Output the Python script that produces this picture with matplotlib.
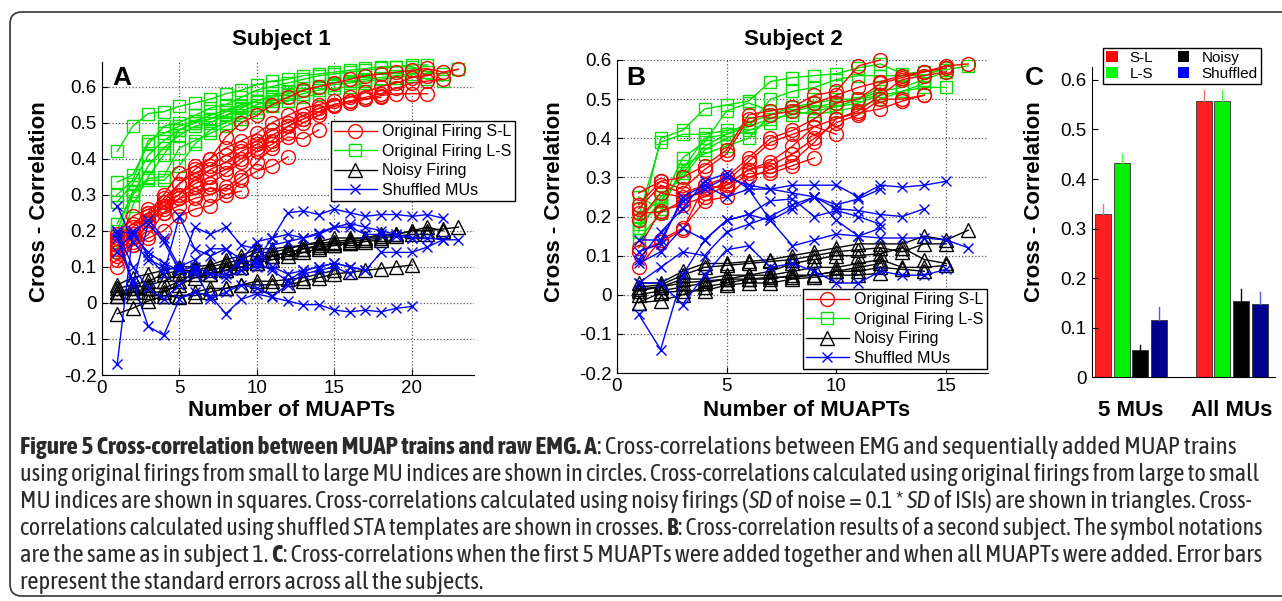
import numpy as np
import matplotlib
matplotlib.use('Agg')
import matplotlib.pyplot as plt
from matplotlib.patches import Patch, FancyBboxPatch
from matplotlib import font_manager

plt.rcParams['font.family'] = ['Liberation Sans', 'DejaVu Sans']

# ---- Subject 1 (panel A) : one list per curve, x = 1..len ----
a_sl = [
    [0.19, 0.24, 0.26, 0.28, 0.33, 0.37, 0.40, 0.46, 0.50, 0.52, 0.55, 0.57, 0.59, 0.60, 0.61, 0.62, 0.63, 0.635, 0.64, 0.645, 0.65, 0.64, 0.648],
    [0.18, 0.22, 0.25, 0.30, 0.36, 0.38, 0.40, 0.43, 0.45, 0.47, 0.50, 0.52, 0.54, 0.55, 0.56, 0.57, 0.585, 0.60, 0.61, 0.625, 0.63],
    [0.16, 0.21, 0.24, 0.29, 0.33, 0.36, 0.38, 0.41, 0.43, 0.45, 0.48, 0.50, 0.52, 0.54, 0.55, 0.56, 0.57, 0.58, 0.595, 0.61, 0.615, 0.62],
    [0.15, 0.19, 0.23, 0.28, 0.30, 0.34, 0.37, 0.39, 0.42, 0.44, 0.465, 0.49, 0.51, 0.53, 0.545, 0.555, 0.565, 0.575, 0.58, 0.58, 0.58],
    [0.13, 0.17, 0.22, 0.27, 0.30, 0.33, 0.35, 0.37, 0.40, 0.43, 0.45, 0.49, 0.51, 0.53, 0.55, 0.56, 0.565, 0.57],
    [0.14, 0.18, 0.25, 0.26, 0.29, 0.32, 0.33, 0.36, 0.39, 0.42, 0.44, 0.47, 0.50, 0.52, 0.55],
    [0.12, 0.16, 0.19, 0.25, 0.29, 0.30, 0.32, 0.31, 0.34, 0.365, 0.38, 0.405],
    [0.10, 0.16, 0.18, 0.20, 0.24, 0.26, 0.27, 0.30, 0.31],
    [0.17, 0.20, 0.23, 0.25, 0.27, 0.29, 0.30, 0.32, 0.35, 0.39, 0.43, 0.46, 0.455, 0.48],
]
a_ls = [
    [0.42, 0.49, 0.525, 0.53, 0.545, 0.555, 0.565, 0.58, 0.59, 0.605, 0.615, 0.62, 0.63, 0.635, 0.64, 0.645, 0.65, 0.655, 0.655, 0.66, 0.66],
    [0.335, 0.355, 0.44, 0.49, 0.50, 0.52, 0.54, 0.55, 0.57, 0.59, 0.60, 0.61, 0.62, 0.63, 0.635, 0.64, 0.645, 0.65, 0.655, 0.655, 0.64, 0.635, 0.648],
    [0.30, 0.34, 0.45, 0.47, 0.49, 0.505, 0.52, 0.535, 0.55, 0.56, 0.575, 0.585, 0.59, 0.60, 0.61, 0.615, 0.62, 0.625, 0.63, 0.635, 0.62, 0.615],
    [0.28, 0.33, 0.41, 0.45, 0.48, 0.50, 0.51, 0.53, 0.545, 0.56, 0.57, 0.58, 0.59, 0.60, 0.605, 0.61, 0.615, 0.62, 0.625, 0.63],
    [0.22, 0.30, 0.38, 0.43, 0.465, 0.49, 0.50, 0.52, 0.53, 0.55, 0.56, 0.57, 0.58, 0.59, 0.595, 0.60, 0.61],
    [0.20, 0.31, 0.345, 0.35, 0.43, 0.45, 0.47, 0.49, 0.51, 0.53, 0.545, 0.56, 0.57, 0.58],
    [0.17, 0.30, 0.34, 0.34, 0.38, 0.44, 0.48, 0.50, 0.52, 0.54, 0.55, 0.56],
    [0.14, 0.27, 0.35, 0.41, 0.48, 0.50, 0.51, 0.52, 0.54, 0.56],
]
a_noisy = [
    [0.04, 0.05, 0.06, 0.08, 0.09, 0.09, 0.10, 0.11, 0.12, 0.14, 0.14, 0.15, 0.16, 0.165, 0.17, 0.175, 0.18, 0.19, 0.19, 0.20, 0.20, 0.205, 0.21],
    [0.05, 0.07, 0.08, 0.09, 0.10, 0.10, 0.105, 0.12, 0.13, 0.15, 0.15, 0.155, 0.16, 0.17, 0.18, 0.18, 0.18, 0.185, 0.19, 0.20, 0.21, 0.20],
    [0.03, 0.04, 0.05, 0.06, 0.08, 0.09, 0.09, 0.10, 0.11, 0.12, 0.13, 0.14, 0.15, 0.16, 0.165, 0.17, 0.175, 0.18, 0.185, 0.19, 0.19],
    [0.02, 0.03, 0.04, 0.04, 0.06, 0.08, 0.08, 0.09, 0.10, 0.11, 0.12, 0.13, 0.14, 0.15, 0.16, 0.165, 0.17, 0.175],
    [0.03, 0.02, 0.03, 0.03, 0.05, 0.07, 0.08, 0.09, 0.10, 0.11, 0.13, 0.14, 0.15, 0.155, 0.16, 0.165],
    [0.02, 0.03, 0.02, 0.02, 0.02, 0.02, 0.03, 0.04, 0.05, 0.05, 0.05, 0.05, 0.06, 0.07, 0.08, 0.085, 0.09, 0.095, 0.10, 0.105],
    [-0.03, -0.015, 0.005, 0.02, 0.015, 0.03, 0.04, 0.04, 0.05, 0.06, 0.06, 0.065, 0.07, 0.08, 0.09],
]
a_shuf = [
    [0.27, 0.17, 0.12, 0.10, 0.09, 0.08, 0.08, 0.07, 0.09, 0.12, 0.18, 0.25, 0.255, 0.245, 0.26, 0.25, 0.24, 0.245, 0.245, 0.24, 0.245, 0.235],
    [0.20, 0.19, 0.23, 0.18, 0.10, 0.12, 0.15, 0.15, 0.12, 0.17, 0.18, 0.19, 0.18, 0.195, 0.21, 0.22, 0.21, 0.20, 0.19, 0.18, 0.18, 0.175, 0.175],
    [-0.17, 0.19, 0.14, 0.11, 0.09, 0.10, 0.08, 0.08, 0.12, 0.11, 0.09, 0.06, 0.09, 0.10, 0.11, 0.10, 0.09, 0.14, 0.14, 0.14, 0.155, 0.175],
    [0.19, 0.06, -0.065, -0.09, 0.01, 0.03, 0.02, -0.03, 0.01, 0.025, 0.015, 0.005, -0.005, -0.005, -0.02, -0.025, -0.02, -0.025, -0.015, -0.01],
    [0.18, 0.05, 0.22, 0.17, 0.09, 0.21, 0.19, 0.21, 0.16, 0.15, 0.10, 0.08, 0.09, 0.10, 0.11, 0.10, 0.09],
    [0.14, 0.20, 0.13, 0.08, 0.24, 0.15, 0.13, 0.15, 0.09, 0.10, 0.16, 0.17, 0.18, 0.19, 0.21, 0.21, 0.19, 0.19, 0.185, 0.18],
    [0.20, 0.10, 0.04, 0.01, 0.05, 0.09, 0.01, 0.03, 0.05, 0.04, 0.02, 0.05, 0.08, 0.09, 0.10, 0.08],
]

# ---- Subject 2 (panel B) ----
b_sl = [
    [0.26, 0.29, 0.30, 0.33, 0.37, 0.46, 0.47, 0.48, 0.51, 0.52, 0.585, 0.60],
    [0.23, 0.29, 0.27, 0.32, 0.36, 0.45, 0.46, 0.47, 0.49, 0.51, 0.53, 0.545, 0.56, 0.57, 0.585, 0.59],
    [0.22, 0.28, 0.26, 0.28, 0.30, 0.35, 0.40, 0.42, 0.45, 0.49, 0.50, 0.54, 0.555, 0.57, 0.58],
    [0.19, 0.26, 0.25, 0.26, 0.29, 0.34, 0.39, 0.41, 0.43, 0.45, 0.47, 0.51, 0.55, 0.56, 0.57],
    [0.12, 0.215, 0.23, 0.25, 0.28, 0.32, 0.33, 0.36, 0.40, 0.44, 0.46, 0.50, 0.50, 0.51],
    [0.07, 0.14, 0.17, 0.24, 0.25, 0.30, 0.32, 0.34, 0.39, 0.45, 0.465, 0.475, 0.495, 0.51],
    [0.11, 0.135, 0.165, 0.28, 0.27, 0.31, 0.31, 0.33, 0.35],
    [0.21, 0.21, 0.24, 0.27, 0.28, 0.32, 0.34, 0.38, 0.43, 0.41],
]
b_ls = [
    [0.16, 0.40, 0.42, 0.475, 0.485, 0.495, 0.545, 0.555, 0.56, 0.565, 0.58, 0.59, 0.565, 0.57, 0.575, 0.585],
    [0.20, 0.39, 0.41, 0.41, 0.42, 0.43, 0.50, 0.52, 0.53, 0.55, 0.56, 0.56, 0.56, 0.56, 0.58],
    [0.18, 0.23, 0.35, 0.39, 0.47, 0.49, 0.47, 0.48, 0.49, 0.50, 0.50, 0.52, 0.53, 0.55, 0.57],
    [0.25, 0.22, 0.32, 0.40, 0.41, 0.44, 0.46, 0.47, 0.48, 0.49, 0.50, 0.51, 0.52, 0.53, 0.53],
    [0.19, 0.25, 0.30, 0.37, 0.40, 0.42, 0.44, 0.47, 0.46, 0.47, 0.48, 0.50, 0.52, 0.54],
    [0.14, 0.21, 0.33, 0.36, 0.38, 0.40, 0.46, 0.48, 0.48, 0.48, 0.49, 0.51],
    [0.17, 0.24, 0.31, 0.38, 0.41, 0.43, 0.45, 0.46, 0.47, 0.48, 0.50, 0.53],
]
b_noisy = [
    [0.03, 0.03, 0.06, 0.08, 0.08, 0.085, 0.09, 0.10, 0.11, 0.12, 0.13, 0.13, 0.13, 0.15, 0.14, 0.165],
    [0.02, 0.025, 0.05, 0.07, 0.075, 0.08, 0.085, 0.09, 0.10, 0.11, 0.115, 0.12, 0.11, 0.13, 0.13],
    [0.01, 0.02, 0.04, 0.04, 0.05, 0.05, 0.06, 0.08, 0.09, 0.10, 0.10, 0.105, 0.12, 0.09, 0.08],
    [0.0, 0.01, 0.02, 0.03, 0.04, 0.05, 0.05, 0.06, 0.07, 0.07, 0.08, 0.09, 0.07, 0.07, 0.075],
    [-0.02, -0.015, 0.0, 0.02, 0.03, 0.04, 0.04, 0.05, 0.05, 0.06, 0.06, 0.07, 0.065, 0.06],
    [-0.02, 0.005, 0.01, 0.01, 0.025, 0.03, 0.03, 0.04, 0.045, 0.05, 0.05, 0.055],
    [0.015, 0.02, 0.03, 0.035, 0.04, 0.04, 0.045, 0.045, 0.05, 0.06, 0.07, 0.08],
]
b_shuf = [
    [0.14, 0.14, 0.24, 0.27, 0.30, 0.28, 0.27, 0.28, 0.28, 0.28, 0.25, 0.28, 0.275, 0.28, 0.29],
    [0.09, 0.16, 0.22, 0.29, 0.31, 0.27, 0.19, 0.22, 0.25, 0.22, 0.215, 0.205, 0.20, 0.22],
    [0.11, 0.13, 0.25, 0.28, 0.25, 0.27, 0.27, 0.26, 0.25, 0.23, 0.245, 0.27],
    [-0.05, -0.14, 0.05, 0.14, 0.19, 0.205, 0.24, 0.245, 0.20, 0.215, 0.20, 0.18],
    [0.03, 0.07, 0.11, 0.10, 0.16, 0.18, 0.20, 0.23, 0.25, 0.19, 0.15, 0.17],
    [0.08, 0.11, 0.17, 0.14, 0.19, 0.205, 0.19, 0.125, 0.14, 0.155, 0.15, 0.145, 0.145, 0.145, 0.14, 0.12],
    [0.03, 0.03, -0.025, 0.05, 0.115, 0.125, 0.07, 0.08, 0.06, 0.03, 0.03, 0.06, 0.05, 0.05, 0.065],
]

# ---- panel C bars ----
groups = ['5 MUs', 'All MUs']
bar_names = ['S-L', 'L-S', 'Noisy', 'Shuffled']
bar_means = [[0.330, 0.432, 0.056, 0.116],
             [0.558, 0.558, 0.154, 0.148]]
bar_err = [[0.020, 0.019, 0.010, 0.026],
           [0.022, 0.022, 0.024, 0.024]]

RED, GREEN, BLACK, BLUE = '#ff0000', '#00e000', 'k', '#0000ff'
W, H = 1282, 601

fig = plt.figure(figsize=(W / 100, H / 100), dpi=100)

# rounded frame round the whole figure
bg = fig.add_axes([0, 0, 1, 1])
bg.set_xlim(0, W)
bg.set_ylim(H, 0)
bg.axis('off')
bg.add_patch(FancyBboxPatch((10, 12), 1300, 584, boxstyle='round,pad=0,rounding_size=12',
                            fc='none', ec='#333333', lw=1.2))


def spaghetti(ax, sl, ls, noisy, shuf):
    styles = [(ls, GREEN, 's', 8), (sl, RED, 'o', 10), (noisy, BLACK, '^', 10), (shuf, BLUE, 'x', 7)]
    for curves, c, m, ms in styles:
        for vals in curves:
            x = np.arange(1, len(vals) + 1)
            ax.plot(x, vals, color=c, marker=m, ms=ms, mfc='none', mew=1.0, lw=1.0, clip_on=False)
    ax.grid(True, ls=':', color='0.35', lw=0.9)
    for s in ['top', 'right']:
        ax.spines[s].set_visible(False)
    ax.tick_params(direction='in', labelsize=13.5, length=4)


tick_labels_y = ['-0.2', '-0.1', '0', '0.1', '0.2', '0.3', '0.4', '0.5', '0.6']
yt = [-0.2, -0.1, 0, 0.1, 0.2, 0.3, 0.4, 0.5, 0.6]

axA = fig.add_axes([101.7 / W, 1 - 375 / H, 372.3 / W, 313 / H])
spaghetti(axA, a_sl, a_ls, a_noisy, a_shuf)
axA.set_xlim(0, 24)
axA.set_ylim(-0.2, 0.668)
axA.set_xticks([0, 5, 10, 15, 20])
axA.set_yticks(yt)
axA.set_yticklabels(tick_labels_y)

axB = fig.add_axes([616.7 / W, 1 - 373 / H, 371.3 / W, 313 / H])
spaghetti(axB, b_sl, b_ls, b_noisy, b_shuf)
axB.set_xlim(0, 16.9)
axB.set_ylim(-0.2, 0.6)
axB.set_xticks([0, 5, 10, 15])
axB.set_yticks(yt)
axB.set_yticklabels(tick_labels_y)

leg_handles = [
    plt.Line2D([], [], color=RED, marker='o', ms=10, mfc='none', lw=1),
    plt.Line2D([], [], color=GREEN, marker='s', ms=8, mfc='none', lw=1),
    plt.Line2D([], [], color=BLACK, marker='^', ms=10, mfc='none', lw=1),
    plt.Line2D([], [], color=BLUE, marker='x', ms=7, mfc='none', lw=1),
]
leg_labels = ['Original Firing S-L', 'Original Firing L-S', 'Noisy Firing', 'Shuffled MUs']
for anchor in [(515 / W, 1 - 121 / H), (987 / W, 1 - 289 / H)]:
    lg = fig.legend(leg_handles, leg_labels, loc='upper right', bbox_to_anchor=anchor,
                    fontsize=11.5, handlelength=2.7, handletextpad=0.35, borderpad=0.2,
                    labelspacing=0.28, borderaxespad=0, fancybox=False, framealpha=1,
                    edgecolor='k')
    lg.get_frame().set_linewidth(1.0)

# panel C
axC = fig.add_axes([1091.7 / W, 1 - 377.3 / H, 183.3 / W, 310.3 / H])
bar_cols = ['#ff1f1f', '#00f000', '#000000', '#00008c']
err_cols = ['#ff7070', '#40ff40', '#000000', '#5a5ae0']
bw, step = 0.158, 0.186
for g in range(len(groups)):
    for k in range(len(bar_names)):
        xc = g + 1 + (k - 1.5) * step
        axC.bar(xc, bar_means[g][k], width=bw, color=bar_cols[k], edgecolor='0.2', lw=0.6)
        axC.plot([xc, xc], [bar_means[g][k], bar_means[g][k] + bar_err[g][k]],
                 color=err_cols[k], lw=1.0)
axC.set_xlim(0.61, 2.43)
axC.set_ylim(0, 0.626)
axC.set_yticks([0, 0.1, 0.2, 0.3, 0.4, 0.5, 0.6])
axC.set_yticklabels(['0', '0.1', '0.2', '0.3', '0.4', '0.5', '0.6'])
axC.set_xticks([])
for s in ['top', 'right']:
    axC.spines[s].set_visible(False)
axC.tick_params(direction='in', labelsize=13.5, length=4)
for g, name in enumerate(groups):
    fig.text((1091.7 + (g + 1 - 0.61) * 183.3 / 1.82) / W, 1 - 410 / H, name,
             ha='center', va='center', fontsize=16, weight='bold')

c_handles = [Patch(fc=c, ec='none') for c in [RED, '#00ff00', BLACK, BLUE]]
lgc = fig.legend(c_handles, bar_names, loc='upper left', bbox_to_anchor=(1103 / W, 1 - 48 / H),
                 ncol=2, fontsize=11, handlelength=0.75, handleheight=0.75, handletextpad=0.8,
                 columnspacing=1.6, borderpad=0.2, labelspacing=0.1, borderaxespad=0,
                 fancybox=False, framealpha=1, edgecolor='k')
lgc.get_frame().set_linewidth(1.0)

# titles, axis labels, panel letters
fig.text(281 / W, 1 - 40 / H, 'Subject 1', ha='center', va='center', fontsize=16, weight='bold')
fig.text(793 / W, 1 - 40 / H, 'Subject 2', ha='center', va='center', fontsize=16, weight='bold')
for xc in [40, 555, 1035]:
    fig.text(xc / W, 1 - 202 / H, 'Cross - Correlation', rotation=90, ha='center', va='center',
             fontsize=16, weight='bold')
fig.text(292 / W, 1 - 411 / H, 'Number of MUAPTs', ha='center', va='center', fontsize=16, weight='bold')
fig.text(807 / W, 1 - 411 / H, 'Number of MUAPTs', ha='center', va='center', fontsize=16, weight='bold')
for letter, xl in [('A', 112), ('B', 626), ('C', 1025)]:
    fig.text(xl / W, 1 - 85 / H, letter, ha='left', va='baseline', fontsize=19, weight='bold')


# caption: pick a narrow face, preferably one that also has a bold cut
def wnum(w):
    return w if isinstance(w, (int, float)) else font_manager.weight_dict.get(w, 400)


fams = {}
for f in font_manager.fontManager.ttflist:
    if 'Narrow' in f.name or 'Condensed' in f.name:
        fams.setdefault(f.name, set()).add(wnum(f.weight))
with_bold = sorted(n for n, ws in fams.items() if max(ws) >= 600 and min(ws) <= 450)
with_reg = sorted(n for n, ws in fams.items() if min(ws) <= 450)
if with_bold:
    cap_font = bold_font = with_bold[0]
elif with_reg:
    cap_font, bold_font = with_reg[0], 'Roboto'
else:
    cap_font, bold_font = 'Liberation Sans', 'Liberation Sans'

caption = [
    [('Figure 5 Cross-correlation between MUAP trains and raw EMG. A', 'b'),
     (': Cross-correlations between EMG and sequentially added MUAP trains', 'n')],
    [('using original firings from small to large MU indices are shown in circles. Cross-correlations calculated using original firings from large to small', 'n')],
    [('MU indices are shown in squares. Cross-correlations calculated using noisy firings (', 'n'), ('SD', 'i'),
     (' of noise = 0.1 * ', 'n'), ('SD', 'i'), (' of ISIs) are shown in triangles. Cross-', 'n')],
    [('correlations calculated using shuffled STA templates are shown in crosses. ', 'n'), ('B', 'b'),
     (': Cross-correlation results of a second subject. The symbol notations', 'n')],
    [('are the same as in subject 1. ', 'n'), ('C', 'b'),
     (': Cross-correlations when the first 5 MUAPTs were added together and when all MUAPTs were added. Error bars', 'n')],
    [('represent the standard errors across all the subjects.', 'n')],
]
cap_right = [1238, 1262, 1255, 1263, 1262, 430]
cap_fs = 12.5
cap_lines = []
for i, segs in enumerate(caption):
    yb = 459 + i * 27.1
    prev = None
    pieces = []
    for txt, st in segs:
        fam = bold_font if st == 'b' else cap_font
        kw = dict(fontsize=cap_fs, family=[fam, 'DejaVu Sans'], color='#2a2a2a',
                  weight='bold' if st == 'b' else 'normal',
                  style='italic' if st == 'i' else 'normal', ha='left', va='bottom')
        if prev is None:
            prev = bg.text(20, yb, txt, **kw)
        else:
            prev = bg.annotate(txt, xy=(1, 0), xycoords=prev, **kw)
        pieces.append(prev)
    cap_lines.append(pieces)

# fit each full line to the width it has in the figure; last line uses the mean size
renderer = fig.canvas.get_renderer()
sizes = []
for r, pieces in zip(cap_right, cap_lines):
    sizes.append(cap_fs * (r - 20) / (pieces[-1].get_window_extent(renderer).x1 - 20))
sizes[-1] = float(np.mean(sizes[:-1]))
for fs, pieces in zip(sizes, cap_lines):
    for t in pieces:
        t.set_fontsize(fs)

fig.savefig('out.png', dpi=100)
